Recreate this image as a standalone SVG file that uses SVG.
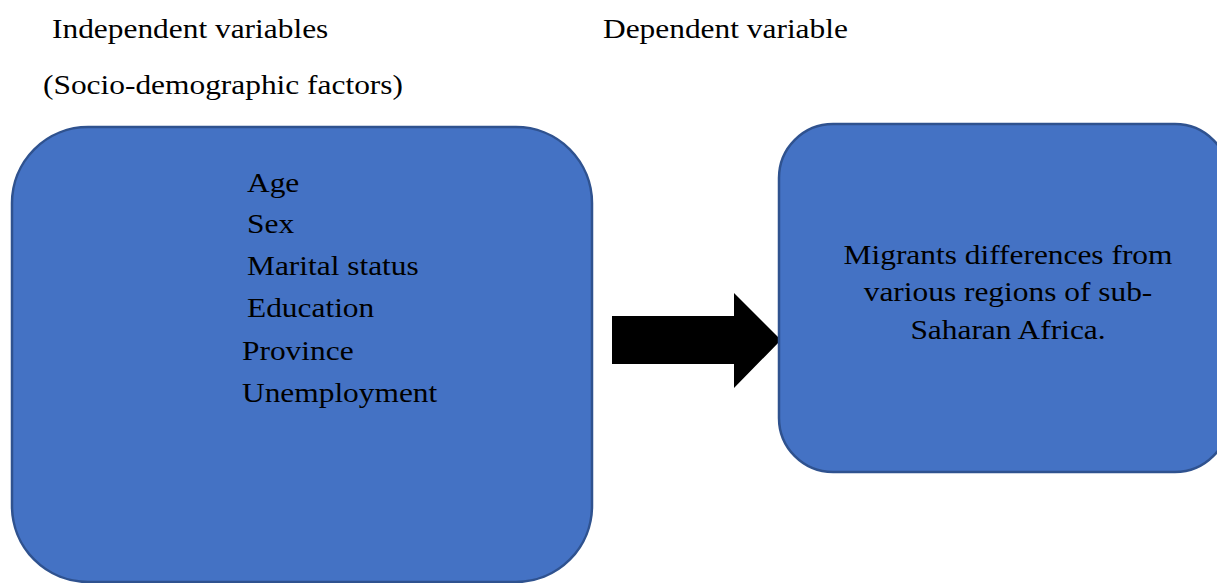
<svg xmlns="http://www.w3.org/2000/svg" width="1217" height="583" viewBox="0 0 1217 583">
<style>
.box{fill:#4472C4;stroke:#2F528F;stroke-width:2.5}
.t{font-family:"Liberation Serif","Times New Roman",serif;font-size:27.6px;fill:#000}
.m{text-anchor:middle}
</style>
<rect width="1217" height="583" fill="#fff"/>
<g id="labels">
<text class="t" transform="translate(52 38) scale(1.138 1)">Independent variables</text>
<text class="t" transform="translate(43 94) scale(1.138 1)">(Socio-demographic factors)</text>
<text class="t" transform="translate(603 38) scale(1.138 1)">Dependent variable</text>
</g>
<g id="connectors">
<polygon points="612,316 734,316 734,293 781,340 734,388 734,364 612,364" fill="#000"/>
</g>
<g id="independent">
<rect class="box" x="12" y="127" width="580" height="455" rx="76" ry="76"/>
<text class="t" transform="translate(247 192) scale(1.138 1)">Age</text>
<text class="t" transform="translate(247 233) scale(1.138 1)">Sex</text>
<text class="t" transform="translate(247 275) scale(1.138 1)">Marital status</text>
<text class="t" transform="translate(247 317) scale(1.138 1)">Education</text>
<text class="t" transform="translate(242 360) scale(1.138 1)">Province</text>
<text class="t" transform="translate(242 402) scale(1.138 1)">Unemployment</text>
</g>
<g id="dependent">
<rect class="box" x="779" y="124" width="450" height="348" rx="54" ry="54"/>
<text class="t m" transform="translate(1008 264) scale(1.138 1)">Migrants differences from</text>
<text class="t m" transform="translate(1008 301) scale(1.138 1)">various regions of sub-</text>
<text class="t m" transform="translate(1008 339) scale(1.138 1)">Saharan Africa.</text>
</g>
</svg>
